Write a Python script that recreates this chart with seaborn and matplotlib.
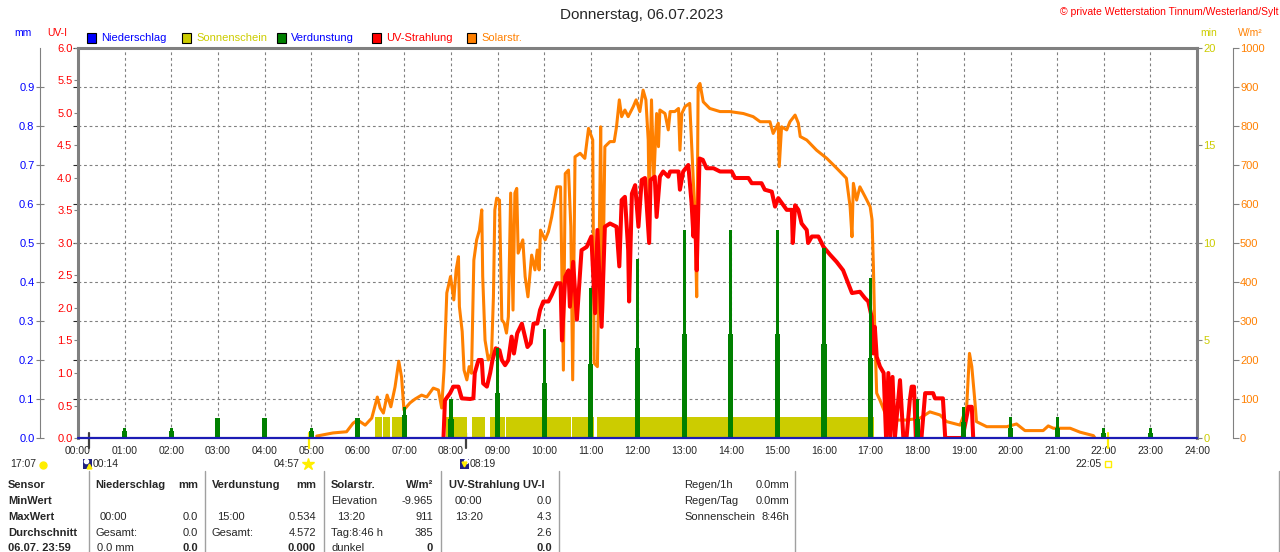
import matplotlib
matplotlib.use('Agg')
import numpy as np
import matplotlib.pyplot as plt
import matplotlib.transforms as mtransforms
from matplotlib.patches import Rectangle
from matplotlib.lines import Line2D
import seaborn as sns

# ---- data ----
hour_ticks = [0, 1, 2, 3, 4, 5, 6, 7, 8, 9, 10, 11, 12, 13, 14, 15, 16, 17, 18, 19, 20, 21, 22, 23, 24]
hour_labels = ['00:00', '01:00', '02:00', '03:00', '04:00', '05:00', '06:00', '07:00', '08:00',
               '09:00', '10:00', '11:00', '12:00', '13:00', '14:00', '15:00', '16:00', '17:00',
               '18:00', '19:00', '20:00', '21:00', '22:00', '23:00', '24:00']

mm_ticks = [0.0, 0.1, 0.2, 0.3, 0.4, 0.5, 0.6, 0.7, 0.8, 0.9]
uv_ticks = [0.0, 0.5, 1.0, 1.5, 2.0, 2.5, 3.0, 3.5, 4.0, 4.5, 5.0, 5.5, 6.0]
min_ticks = [0, 5, 10, 15, 20]
wm2_ticks = [0, 100, 200, 300, 400, 500, 600, 700, 800, 900, 1000]

# Solarstrahlung (W/m2)
solar_t = [5.12, 5.47, 5.76, 5.9, 6.0, 6.16, 6.3, 6.42, 6.48, 6.55, 6.63, 6.71, 6.8, 6.88, 6.94, 6.99,
           7.12, 7.23, 7.37, 7.48, 7.62, 7.73, 7.8, 7.85, 7.91, 7.99, 8.06, 8.11, 8.16, 8.18, 8.24,
           8.28, 8.34, 8.39, 8.44, 8.49, 8.55, 8.61, 8.66, 8.68, 8.73, 8.8, 8.87, 8.91, 8.94, 8.98,
           9.04, 9.09, 9.14, 9.19, 9.23, 9.28, 9.33, 9.37, 9.41, 9.44, 9.54, 9.59, 9.65, 9.73, 9.8,
           9.85, 9.89, 9.92, 10.02, 10.09, 10.16, 10.27, 10.35, 10.41, 10.45, 10.52, 10.57, 10.61,
           10.66, 10.77, 10.87, 10.95, 11.04, 11.07, 11.14, 11.18, 11.21, 11.25, 11.3, 11.41, 11.5,
           11.55, 11.61, 11.66, 11.73, 11.8, 11.91, 11.97, 12.05, 12.12, 12.18, 12.23, 12.25, 12.3,
           12.35, 12.41, 12.45, 12.48, 12.59, 12.66, 12.7, 12.8, 12.88, 12.91, 12.95, 13.02, 13.12,
           13.18, 13.23, 13.27, 13.3, 13.34, 13.41, 13.55, 13.77, 13.98, 14.27, 14.48, 14.63, 14.84,
           14.91, 15.02, 15.04, 15.09, 15.2, 15.27, 15.38, 15.45, 15.49, 15.63, 15.84, 16.06, 16.27,
           16.48, 16.56, 16.6, 16.63, 16.7, 16.77, 16.88, 16.99, 17.03, 17.06, 17.09, 17.13, 17.2,
           17.31, 17.49, 17.77, 18.06, 18.27, 18.49, 18.63, 18.92, 19.06, 19.12, 19.17, 19.24, 19.27,
           19.49, 19.92, 20.13, 20.31, 20.7, 20.81, 20.92, 21.28, 21.49, 21.78, 21.81]
solar_w = [5, 13, 16, 38, 46, 33, 51, 105, 77, 64, 110, 80, 131, 197, 156, 72,
           90, 100, 110, 105, 128, 123, 77, 174, 372, 414, 354, 431, 465, 337, 273,
           174, 149, 183, 166, 456, 508, 533, 585, 414, 251, 200, 217, 362, 585, 615,
           610, 303, 295, 269, 311, 628, 328, 628, 640, 474, 508, 414, 362, 469, 431,
           482, 431, 533, 508, 529, 567, 644, 644, 174, 678, 687, 542, 149,
           721, 730, 717, 794, 764, 192, 183, 508, 798, 320, 747, 760, 760,
           798, 867, 824, 841, 824, 850, 867, 837, 892, 867, 764, 593, 867,
           661, 832, 747, 841, 832, 790, 837, 837, 845, 738, 832, 850, 858,
           704, 576, 362, 901, 909, 862, 845, 837, 837, 832, 824, 811, 811,
           781, 807, 696, 798, 790, 811, 828, 807, 773, 764, 738, 717, 692,
           666, 593, 516, 653, 610, 644, 619, 593, 560, 439, 269, 115, 97,
           64, 46, 46, 51, 67, 59, 42, 33, 80, 217, 183, 89, 42,
           29, 29, 36, 19, 19, 31, 25, 25, 15, 6, 0]

# UV-Strahlung (UV-I)
uv_t = [7.84, 7.87, 7.98, 8.05, 8.16, 8.23, 8.41, 8.48, 8.51, 8.59, 8.66, 8.69, 8.77, 8.84, 8.89,
        8.96, 9.04, 9.09, 9.16, 9.23, 9.3, 9.35, 9.42, 9.52, 9.57, 9.64, 9.71, 9.77, 9.85, 9.91,
        9.98, 10.09, 10.16, 10.27, 10.35, 10.38, 10.45, 10.52, 10.55, 10.62, 10.7, 10.8, 10.91,
        11.01, 11.09, 11.14, 11.23, 11.3, 11.41, 11.55, 11.61, 11.66, 11.73, 11.8, 11.82, 11.88,
        11.95, 12.02, 12.09, 12.16, 12.25, 12.28, 12.37, 12.41, 12.48, 12.55, 12.66, 12.7, 12.88,
        12.91, 12.98, 13.09, 13.16, 13.2, 13.23, 13.27, 13.33, 13.4, 13.48, 13.63, 13.77, 14.02,
        14.09, 14.38, 14.45, 14.66, 14.73, 14.88, 14.95, 15.02, 15.13, 15.2, 15.31, 15.33, 15.38,
        15.45, 15.52, 15.63, 15.66, 15.74, 15.88, 15.99, 16.13, 16.27, 16.41, 16.52, 16.6, 16.77,
        16.88, 16.95, 17.02, 17.06, 17.09, 17.13, 17.2, 17.28, 17.33, 17.38, 17.42, 17.47, 17.52,
        17.63, 17.7, 17.77, 17.84, 17.88, 17.93, 17.97, 18.09, 18.17, 18.34, 18.38, 18.55, 18.6,
        18.97, 19.1, 19.17, 19.2]
uv_i = [0.02, 0.58, 0.69, 0.79, 0.79, 0.61, 0.6, 0.61, 1.0, 1.2, 1.2, 0.84, 0.79, 1.0, 1.2,
        1.38, 1.35, 1.2, 1.12, 1.2, 1.56, 1.3, 1.61, 1.76, 1.61, 1.4, 1.46, 1.76, 1.76, 1.97,
        2.1, 2.1, 2.2, 2.38, 2.38, 1.5, 2.48, 2.58, 2.02, 2.71, 1.82, 2.89, 2.94,
        3.1, 1.92, 3.2, 1.71, 3.25, 3.3, 3.25, 2.64, 3.66, 3.71, 2.89, 2.1, 3.76,
        3.89, 3.25, 3.97, 4.0, 3.0, 3.97, 4.02, 3.4, 4.02, 4.1, 4.02, 4.1, 4.1,
        3.82, 4.1, 4.2, 3.61, 3.1, 3.56, 2.58, 4.3, 4.28, 4.15, 4.15, 4.1, 4.1,
        4.0, 4.0, 3.92, 3.92, 3.82, 3.79, 3.56, 3.69, 3.58, 3.51, 3.51, 3.0, 3.58,
        3.51, 3.3, 3.2, 3.0, 3.1, 3.1, 2.94, 2.82, 2.71, 2.58, 2.38, 2.23, 2.25,
        2.15, 2.1, 1.87, 1.3, 1.71, 1.25, 1.1, 1.0, 0.02, 1.0, 0.0, 0.94, 0.0,
        0.89, 0.02, 0.0, 0.58, 0.79, 0.79, 0.0, 0.0, 0.69, 0.69, 0.61, 0.61, 0.0,
        0.0, 0.48, 0.48, 0.0]

# Verdunstung (mm), hourly spikes: thin tall part and wider lower part
verd_h = [1, 2, 3, 4, 5, 6, 7, 8, 9, 10, 11, 12, 13, 14, 15, 16, 17, 18, 19, 20, 21, 22, 23]
verd_hi = [0.026, 0.026, 0.052, 0.052, 0.026, 0.052, 0.08, 0.10, 0.23, 0.28, 0.385, 0.46,
           0.533, 0.533, 0.534, 0.487, 0.41, 0.10, 0.08, 0.054, 0.054, 0.026, 0.026]
verd_lo = [0.018, 0.018, 0.052, 0.052, 0.018, 0.052, 0.06, 0.05, 0.115, 0.14, 0.19, 0.23,
           0.267, 0.267, 0.267, 0.24, 0.205, 0.05, 0.04, 0.026, 0.026, 0.013, 0.013]

# Sonnenschein (min) blocks
sun_start = [6.37, 6.54, 6.73, 7.89, 8.45, 8.84, 9.18, 10.60, 11.13]
sun_end = [6.51, 6.69, 6.95, 8.34, 8.73, 9.16, 10.57, 11.07, 17.07]
sun_min = [1.09, 1.09, 1.09, 1.09, 1.09, 1.09, 1.09, 1.09, 1.09]

# Niederschlag (mm)
rain_t = [0.0, 24.0]
rain_mm = [0.0, 0.0]

# sun / moon events (hours)
moon_rise, sun_rise, moon_set, sun_set = 0.233, 4.95, 8.317, 22.083

BLUE = '#0000ff'
YEL = '#cccc00'
GREEN = '#008000'
RED = '#ff0000'
ORANGE = '#ff8000'
GRAY = '#808080'

sns.set_style('white')
plt.rcParams['font.family'] = ['Liberation Sans', 'DejaVu Sans']
plt.rcParams['font.size'] = 8

W, H = 1280, 552
fig = plt.figure(figsize=(12.8, 5.52), dpi=100)
fig.patch.set_facecolor('white')


def ftext(x, y, s, **kw):
    kw.setdefault('va', 'center')
    fig.text(x / W, 1 - y / H, s, **kw)


def fmark(x, y, **kw):
    fig.add_artist(Line2D([x / W], [1 - y / H], transform=fig.transFigure, ls='none', **kw))


def frect(x, y, w, h, **kw):
    fig.add_artist(Rectangle((x / W, 1 - (y + h) / H), w / W, h / H, transform=fig.transFigure, **kw))


ax = fig.add_axes([78 / W, 114 / H, 1119 / W, 390 / H])
ax.set_facecolor('white')
ax.set_xlim(0, 24)
ax.set_ylim(0, 1)
ax.set_xticks(hour_ticks)
ax.set_xticklabels(hour_labels)
ax.set_yticks([0.1, 0.2, 0.3, 0.4, 0.5, 0.6, 0.7, 0.8, 0.9, 1.0])
ax.tick_params(axis='y', left=False, labelleft=False)
ax.tick_params(axis='x', direction='out', length=4, width=1, color=GRAY, pad=2, labelsize=7.5)
ax.grid(True, color=GRAY, ls=(0, (2.5, 2.5)), lw=0.8)
for s in ['left', 'right', 'top']:
    ax.spines[s].set_color(GRAY)
    ax.spines[s].set_linewidth(2.2)
ax.spines['bottom'].set_visible(False)
ax.set_zorder(0)

ax_min = ax.twinx()
ax_w = ax.twinx()
ax_uv = ax.twinx()
ax_mm = ax.twinx()
for i, a in enumerate([ax_min, ax_w, ax_uv, ax_mm]):
    a.set_zorder(i + 1)
    a.patch.set_visible(False)
    for s in a.spines.values():
        s.set_visible(False)
    a.set_xlim(0, 24)

# Sonnenschein
ax_min.bar(sun_start, sun_min, width=np.subtract(sun_end, sun_start), align='edge', color=YEL, lw=0)
ax_min.set_ylim(0, 20)
ax_min.set_yticks(min_ticks)
ax_min.tick_params(axis='y', right=True, direction='out', length=3.5, color=GRAY,
                   labelcolor=YEL, pad=1, labelsize=8)

# Solarstrahlung
sns.lineplot(x=solar_t, y=solar_w, ax=ax_w, color=ORANGE, lw=2.2, estimator=None, sort=False)
ax_w.set_ylim(0, 1000)
ax_w.set_yticks(wm2_ticks)
ax_w.spines['right'].set_visible(True)
ax_w.spines['right'].set_position(('outward', 26))
ax_w.spines['right'].set_color(GRAY)
ax_w.tick_params(axis='y', right=True, direction='out', length=4, color=GRAY,
                 labelcolor=ORANGE, pad=1, labelsize=8)

# UV-Strahlung
sns.lineplot(x=uv_t, y=uv_i, ax=ax_uv, color=RED, lw=2.9, estimator=None, sort=False)
ax_uv.set_ylim(0, 6)
ax_uv.set_yticks(uv_ticks)
ax_uv.set_yticklabels([f'{v:.1f}' for v in uv_ticks])
ax_uv.yaxis.set_ticks_position('left')
ax_uv.tick_params(axis='y', left=True, right=False, labelleft=True, labelright=False,
                  direction='out', length=3, color=GRAY, labelcolor=RED, pad=1, labelsize=8)

# Verdunstung + Niederschlag
ax_mm.bar(verd_h, verd_lo, width=0.11, color=GREEN, lw=0)
ax_mm.bar(verd_h, verd_hi, width=0.065, color=GREEN, lw=0)
sns.lineplot(x=rain_t, y=rain_mm, ax=ax_mm, color='#1c1cb4', lw=1.6, estimator=None, sort=False)
for ln in ax_mm.lines:
    ln.set_clip_on(False)
ax_mm.set_ylim(0, 1)
ax_mm.set_yticks(mm_ticks)
ax_mm.set_yticklabels([f'{v:.1f}' for v in mm_ticks])
ax_mm.yaxis.set_ticks_position('left')
ax_mm.spines['left'].set_visible(True)
ax_mm.spines['left'].set_position(('outward', 27.4))
ax_mm.spines['left'].set_color(GRAY)
ax_mm.tick_params(axis='y', left=True, right=False, labelleft=True, labelright=False,
                  direction='inout', length=6, color=GRAY, labelcolor=BLUE, pad=1, labelsize=8)
for a in [ax_min, ax_w, ax_uv, ax_mm]:
    a.set_xlabel('')
    a.set_ylabel('')
    a.tick_params(axis='x', bottom=False, labelbottom=False)

# event ticks below the axis
trans = mtransforms.blended_transform_factory(ax.transData, ax.transAxes)
for t, c in [(moon_rise, '#404040'), (sun_rise, '#ffee00'), (moon_set, '#404040'), (sun_set, '#ffee00')]:
    ax.plot([t, t], [0.012, -0.025], transform=trans, color=c, lw=1.6, clip_on=False, zorder=5)

# header texts
ftext(642, 15, 'Donnerstag, 06.07.2023', ha='center', fontsize=11)
ftext(1278, 12, '\u00a9 private Wetterstation Tinnum/Westerland/Sylt', ha='right', color=RED, fontsize=7.5)
ftext(14, 33, 'mm', color=BLUE, fontsize=7.5)
ftext(47, 33, 'UV-I', color=RED, fontsize=7.5)
ftext(1200, 33, 'min', color=YEL, fontsize=7.5)
ftext(1238, 33, 'W/m\u00b2', color=ORANGE, fontsize=7.5)

legend_items = [('Niederschlag', BLUE, BLUE), ('Sonnenschein', YEL, YEL), ('Verdunstung', GREEN, BLUE),
                ('UV-Strahlung', RED, RED), ('Solarstr.', ORANGE, ORANGE)]
for i, (name, fc, tc) in enumerate(legend_items):
    x0 = 87 + 95 * i
    frect(x0, 33, 9, 10, facecolor=fc, edgecolor='black', lw=0.8)
    ftext(x0 + 14, 38, name, color=tc, fontsize=8)

# sun/moon annotations under x axis
ftext(10, 464, '17:07', fontsize=7.5)
fmark(43, 465, marker='o', ms=5, color='#ffee00', mec='#ffee00')
frect(83, 459, 9, 10, facecolor='#202080', edgecolor='none')
fmark(86, 461, marker='o', ms=3, color='white', mec='white')
fmark(88.5, 466, marker='^', ms=3.5, color='#ffee00', mec='#ffee00')
ftext(93, 464, '00:14', fontsize=7.5)
ftext(300, 464, '04:57', ha='right', fontsize=7.5)
fmark(308, 464, marker='*', ms=9, color='#ffee00', mec='#ffee00')
frect(460, 459, 9, 10, facecolor='#202080', edgecolor='none')
fmark(466, 461, marker='o', ms=3, color='white', mec='white')
fmark(463.5, 464, marker='v', ms=3.5, color='#ffee00', mec='#ffee00')
ftext(470, 464, '08:19', fontsize=7.5)
ftext(1102, 464, '22:05', ha='right', fontsize=7.5)
fmark(1108, 464, marker='s', ms=4, color='none', mec='#ffee00', mew=1)

# table
for x in [89, 205, 324, 441, 559, 795, 1279]:
    fig.add_artist(Line2D([x / W, x / W], [1 - 471 / H, 0], transform=fig.transFigure, color='#a0a0a0', lw=1))

rows_y = [485, 501, 517, 533, 548]
for y, s in zip(rows_y, ['Sensor', 'MinWert', 'MaxWert', 'Durchschnitt', '06.07. 23:59']):
    ftext(8, y, s, fontweight='bold', fontsize=8)

cells = [
    (95, 485, 'Niederschlag', 'left', True), (198, 485, 'mm', 'right', True),
    (100, 517, '00:00', 'left', False), (198, 517, '0.0', 'right', False),
    (95, 533, 'Gesamt:', 'left', False), (198, 533, '0.0', 'right', False),
    (97, 548, '0.0 mm', 'left', False), (198, 548, '0.0', 'right', True),
    (212, 485, 'Verdunstung', 'left', True), (316, 485, 'mm', 'right', True),
    (217, 517, '15:00', 'left', False), (316, 517, '0.534', 'right', False),
    (212, 533, 'Gesamt:', 'left', False), (316, 533, '4.572', 'right', False),
    (316, 548, '0.000', 'right', True),
    (331, 485, 'Solarstr.', 'left', True), (433, 485, 'W/m\u00b2', 'right', True),
    (331, 501, 'Elevation', 'left', False), (433, 501, '-9.965', 'right', False),
    (337, 517, '13:20', 'left', False), (433, 517, '911', 'right', False),
    (331, 533, 'Tag:8:46 h', 'left', False), (433, 533, '385', 'right', False),
    (331, 548, 'dunkel', 'left', False), (433, 548, '0', 'right', True),
    (449, 485, 'UV-Strahlung UV-I', 'left', True),
    (455, 501, '00:00', 'left', False), (552, 501, '0.0', 'right', False),
    (455, 517, '13:20', 'left', False), (552, 517, '4.3', 'right', False),
    (552, 533, '2.6', 'right', False), (552, 548, '0.0', 'right', True),
    (684, 485, 'Regen/1h', 'left', False), (789, 485, '0.0mm', 'right', False),
    (684, 501, 'Regen/Tag', 'left', False), (789, 501, '0.0mm', 'right', False),
    (684, 517, 'Sonnenschein', 'left', False), (789, 517, '8:46h', 'right', False),
]
for x, y, s, ha, bold in cells:
    ftext(x, y, s, ha=ha, fontweight='bold' if bold else 'normal', fontsize=8)

fig.savefig('out.png', dpi=100, facecolor='white')
